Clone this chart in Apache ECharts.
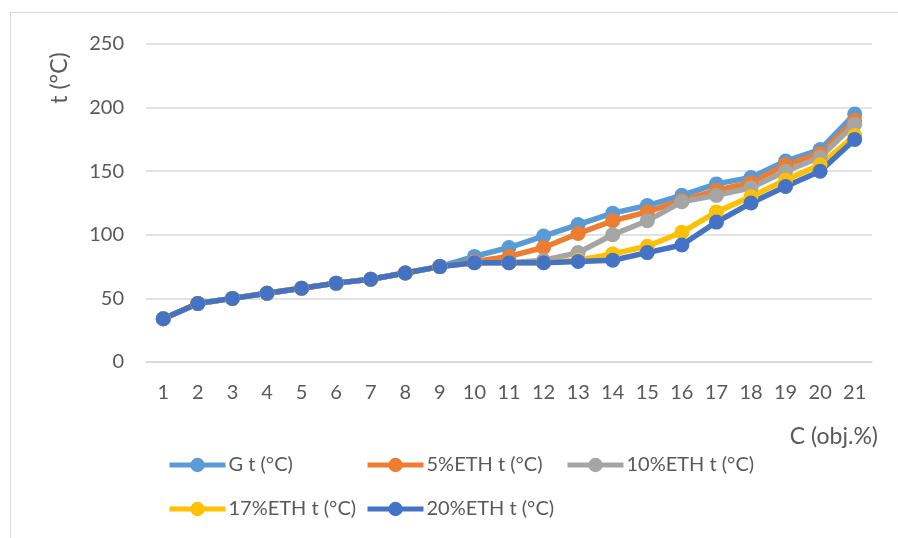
<!DOCTYPE html>
<html>
<head>
<meta charset="utf-8">
<script src="https://cdn.jsdelivr.net/npm/echarts@6/dist/echarts.min.js"></script>
<style>
  html, body { margin: 0; padding: 0; background: #fff; }
  #chart { width: 898px; height: 538px; }
</style>
</head>
<body>
<div id="chart"></div>
<script>
// Concentration steps on the x axis
const categories = ['1','2','3','4','5','6','7','8','9','10','11','12','13','14','15','16','17','18','19','20','21'];

// Temperature readings, t (°C)
const seriesG     = [34, 46, 50, 54, 58, 62, 65, 70, 75, 83, 90, 99, 108, 117, 123, 131, 140, 145, 158, 167, 195];
const series5ETH  = [34, 46, 50, 54, 58, 62, 65, 70, 75, 79, 83, 90, 101, 111, 118, 127, 135, 141, 155, 164, 190];
const series10ETH = [34, 46, 50, 54, 58, 62, 65, 70, 75, 78, 78, 80, 86, 100, 111, 126, 131, 137, 150, 161, 187];
const series17ETH = [34, 46, 50, 54, 58, 62, 65, 70, 75, 78, 78, 78, 80, 85, 91, 102, 118, 130, 143, 155, 178];
const series20ETH = [34, 46, 50, 54, 58, 62, 65, 70, 75, 78, 78, 78, 79, 80, 86, 92, 110, 125, 138, 150, 175];

const seriesNames = ['G t (°C)', '5%ETH t (°C)', '10%ETH t (°C)', '17%ETH t (°C)', '20%ETH t (°C)'];
const seriesData = [seriesG, series5ETH, series10ETH, series17ETH, series20ETH];
const colors = ['#5B9BD5', '#ED7D31', '#A5A5A5', '#FFC000', '#4472C4'];

const yTicks = { min: 0, max: 250, interval: 50 };

const FONT = 'Lato, "Open Sans", sans-serif';
const TXT = '#595959';

const legendPos = [
  { left: 167, top: 455 },
  { left: 365, top: 455 },
  { left: 565, top: 455 },
  { left: 167, top: 499 },
  { left: 365, top: 499 }
];

const chart = echarts.init(document.getElementById('chart'), null, { renderer: 'canvas' });

chart.setOption({
  animation: false,
  color: colors,
  backgroundColor: '#ffffff',
  textStyle: { fontFamily: FONT },
  grid: { left: 146, right: 26, top: 44, height: 318, containLabel: false },
  xAxis: {
    type: 'category',
    data: categories,
    boundaryGap: true,
    axisLine: { show: true, lineStyle: { color: '#d9d9d9', width: 1.5 } },
    axisTick: { show: false },
    axisLabel: { color: TXT, fontSize: 20, fontFamily: FONT, margin: 21 },
    splitLine: { show: false }
  },
  yAxis: {
    type: 'value',
    min: yTicks.min,
    max: yTicks.max,
    interval: yTicks.interval,
    axisLine: { show: false },
    axisTick: { show: false },
    axisLabel: { color: TXT, fontSize: 20, fontFamily: FONT, margin: 22 },
    splitLine: { lineStyle: { color: '#d9d9d9', width: 1.5 } }
  },
  legend: seriesNames.map((name, i) => ({
    data: [name],
    left: legendPos[i].left,
    top: legendPos[i].top,
    padding: 0,
    orient: 'horizontal',
    itemWidth: 56,
    itemHeight: 18,
    itemGap: 4,
    lineStyle: { width: 5 },
    textStyle: { color: TXT, fontSize: 20, fontFamily: FONT, padding: [0, 0, 0, -2] },
    selectedMode: false
  })),
  graphic: [
    {
      type: 'rect',
      silent: true,
      shape: { x: 10.5, y: 12.5, width: 900, height: 540 },
      style: { fill: 'none', stroke: '#d9d9d9', lineWidth: 1 },
      z: -10
    },
    {
      type: 'text',
      silent: true,
      x: 60,
      y: 78,
      rotation: Math.PI / 2,
      style: {
        text: 't (°C)',
        fill: TXT,
        font: '23px ' + FONT,
        align: 'center',
        verticalAlign: 'middle'
      }
    },
    {
      type: 'text',
      silent: true,
      x: 878,
      y: 437,
      style: {
        text: 'C (obj.%)',
        fill: TXT,
        font: '23px ' + FONT,
        align: 'right',
        verticalAlign: 'middle'
      }
    }
  ],
  series: seriesNames.map((name, i) => ({
    name: name,
    type: 'line',
    data: seriesData[i],
    symbol: 'circle',
    symbolSize: 15,
    lineStyle: { width: 5.5, color: colors[i] },
    itemStyle: { color: colors[i] },
    emphasis: { disabled: true }
  }))
});
</script>
</body>
</html>
